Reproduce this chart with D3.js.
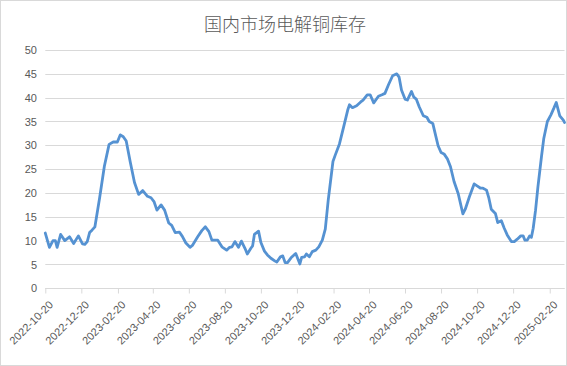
<!DOCTYPE html>
<html><head><meta charset="utf-8">
<script src="https://cdn.jsdelivr.net/npm/d3@7"></script>
<style>html,body{margin:0;padding:0;background:#fff;}svg{display:block;}</style>
</head><body>
<svg id="c" width="567" height="366"></svg>
<script>
const title = "国内市场电解铜库存";
const tickLabels = ["2022-10-20","2022-12-20","2023-02-20","2023-04-20","2023-06-20","2023-08-20","2023-10-20","2023-12-20","2024-02-20","2024-04-20","2024-06-20","2024-08-20","2024-10-20","2024-12-20","2025-02-20"];
const yTicks = [0,5,10,15,20,25,30,35,40,45,50];
const dates = ["2022-10-20","2022-10-27","2022-11-02","2022-11-06","2022-11-09","2022-11-15","2022-11-22","2022-11-30","2022-12-07","2022-12-15","2022-12-22","2022-12-26","2022-12-30","2023-01-03","2023-01-07","2023-01-12","2023-01-20","2023-01-28","2023-02-05","2023-02-12","2023-02-19","2023-02-24","2023-03-01","2023-03-06","2023-03-13","2023-03-20","2023-03-27","2023-04-03","2023-04-11","2023-04-17","2023-04-22","2023-04-27","2023-05-04","2023-05-10","2023-05-17","2023-05-22","2023-05-28","2023-06-04","2023-06-09","2023-06-15","2023-06-22","2023-06-26","2023-07-05","2023-07-12","2023-07-18","2023-07-24","2023-07-29","2023-08-08","2023-08-15","2023-08-23","2023-08-28","2023-09-01","2023-09-06","2023-09-12","2023-09-17","2023-09-23","2023-09-27","2023-10-03","2023-10-06","2023-10-09","2023-10-16","2023-10-20","2023-10-26","2023-10-31","2023-11-06","2023-11-13","2023-11-16","2023-11-22","2023-11-26","2023-11-30","2023-12-04","2023-12-10","2023-12-16","2023-12-18","2023-12-25","2023-12-28","2024-01-02","2024-01-05","2024-01-10","2024-01-15","2024-01-21","2024-01-26","2024-02-01","2024-02-06","2024-02-11","2024-02-19","2024-02-23","2024-03-01","2024-03-08","2024-03-15","2024-03-18","2024-03-23","2024-03-30","2024-04-06","2024-04-10","2024-04-17","2024-04-22","2024-04-28","2024-05-06","2024-05-12","2024-05-17","2024-05-23","2024-05-30","2024-06-06","2024-06-10","2024-06-14","2024-06-20","2024-06-24","2024-07-01","2024-07-05","2024-07-09","2024-07-14","2024-07-21","2024-07-27","2024-07-31","2024-08-06","2024-08-10","2024-08-15","2024-08-20","2024-08-25","2024-08-31","2024-09-05","2024-09-11","2024-09-18","2024-09-26","2024-09-30","2024-10-07","2024-10-15","2024-10-20","2024-10-26","2024-10-30","2024-11-05","2024-11-09","2024-11-13","2024-11-20","2024-11-24","2024-11-30","2024-12-05","2024-12-10","2024-12-17","2024-12-22","2024-12-27","2025-01-02","2025-01-06","2025-01-09","2025-01-13","2025-01-17","2025-01-20","2025-01-23","2025-01-27","2025-01-31","2025-02-06","2025-02-10","2025-02-16","2025-02-22","2025-02-27","2025-03-03","2025-03-09","2025-03-15","2025-03-17"];
const values = [11.6,8.6,10.0,10.0,8.6,11.3,10.0,10.8,9.4,11.0,9.3,9.2,9.8,11.7,12.2,12.9,19.0,25.6,30.2,30.7,30.7,32.2,31.8,30.9,26.4,22.2,19.7,20.5,19.3,19.0,18.2,16.4,17.5,16.4,13.7,13.2,11.7,11.8,10.9,9.5,8.6,9.0,10.8,12.1,12.9,11.9,10.1,10.1,8.7,8.0,8.6,8.7,9.8,8.6,9.9,8.4,7.2,8.4,8.9,11.3,12.0,9.6,7.8,7.0,6.3,5.7,5.5,6.6,6.8,5.4,5.4,6.4,7.1,7.3,5.1,6.5,6.6,7.2,6.6,7.7,8.0,8.7,10.1,12.4,18.5,26.6,28.0,30.3,33.8,37.4,38.5,37.9,38.3,39.1,39.5,40.6,40.6,38.9,40.3,40.6,40.9,42.7,44.6,45.0,44.3,41.6,39.7,39.5,41.3,40.1,39.7,38.1,36.2,35.9,35.0,34.6,32.5,29.9,28.5,28.2,27.1,25.5,22.4,19.9,15.6,16.6,19.2,21.9,21.5,21.0,21.0,20.6,18.9,16.6,15.7,13.8,14.2,12.6,11.2,9.8,9.8,10.3,11.0,11.0,10.1,10.1,11.0,10.7,12.6,16.4,21.3,27.6,31.5,35.0,36.4,37.8,39.0,36.2,35.3,34.8];

const parse = d3.timeParse("%Y-%m-%d");
const data = dates.map((d,i)=>({date:parse(d), value:values[i]}));

const svg = d3.select("#c");
const W=567,H=366;
const mLeft=45.3, mRight=564.5, mTop=50, mBottom=288.3;

svg.append("rect").attr("x",0.5).attr("y",0.5).attr("width",W-1).attr("height",H-1)
  .attr("fill","#fff").attr("stroke","#d9d9d9");

const x = d3.scaleTime().domain([parse(dates[0]), parse(dates[dates.length-1])]).range([mLeft,mRight]);
const y = d3.scaleLinear().domain([0,50]).range([mBottom,mTop]);

// gridlines
svg.append("g").selectAll("line").data(yTicks).join("line")
  .attr("x1",mLeft).attr("x2",mRight)
  .attr("y1",d=>Math.round(y(d))+0.5).attr("y2",d=>Math.round(y(d))+0.5)
  .attr("stroke","#d9d9d9").attr("stroke-width",1);

// y axis labels
const yAxis = d3.axisLeft(y).tickValues(yTicks).tickSize(0).tickPadding(0);
const gy = svg.append("g").attr("transform",`translate(37,0)`).call(yAxis);
gy.select(".domain").remove();
gy.selectAll("text").attr("font-family","'Liberation Sans', Arial, sans-serif").attr("font-size",11).attr("fill","#595959");

// x axis
const xAxis = d3.axisBottom(x).tickValues(tickLabels.map(parse)).tickSize(5).tickFormat(d3.timeFormat("%Y-%m-%d"));
const gx = svg.append("g").attr("transform",`translate(0,${Math.round(mBottom)+0.5})`).call(xAxis);
gx.select(".domain").attr("stroke","#d9d9d9").attr("d",`M${mLeft},0H${mRight}`);
gx.selectAll(".tick line").attr("stroke","#d9d9d9");
gx.selectAll("text").attr("font-family","'Liberation Sans', Arial, sans-serif").attr("font-size",11).attr("fill","#595959")
  .attr("text-anchor","end").attr("dy",0).attr("y",0)
  .attr("transform","translate(8,17) rotate(-45)");

// line
const line = d3.line().x(d=>x(d.date)).y(d=>y(d.value));
svg.append("path").datum(data).attr("d",line).attr("fill","none")
  .attr("stroke","#5592d2").attr("stroke-width",2.8).attr("stroke-linejoin","round").attr("stroke-linecap","round");

// title
svg.append("text").attr("x",285).attr("y",31).attr("text-anchor","middle")
  .attr("font-family","'Noto Sans CJK SC', sans-serif").attr("font-size",18).attr("font-weight",300)
  .attr("fill","#595959").text(title);
</script>
</body></html>
